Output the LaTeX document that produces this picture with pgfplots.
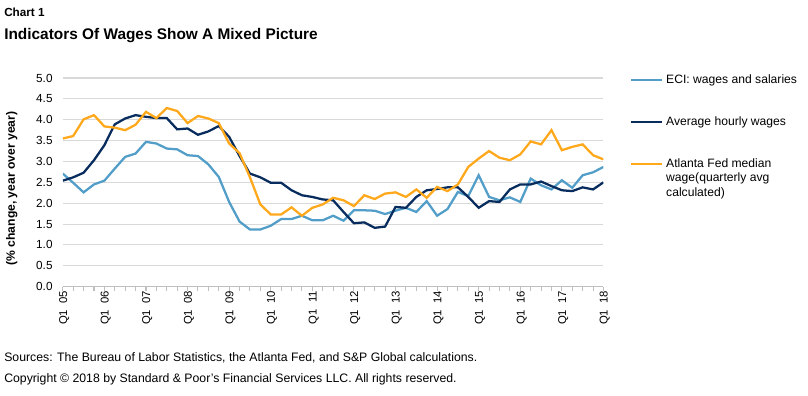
\documentclass[border=0pt]{standalone}
\usepackage{pgfplots}
\usepackage{pgfplotstable}
\pgfplotsset{compat=1.18}
\usepackage{fontspec}
\setmainfont{Liberation Sans}
\definecolor{eci}{RGB}{82,158,200}
\definecolor{ahw}{RGB}{8,44,94}
\definecolor{atl}{RGB}{255,168,28}
\definecolor{gridc}{RGB}{217,217,217}
\definecolor{axc}{RGB}{191,191,191}
\pgfplotsset{atlimg/.style={legend image code/.code={\path (0pt,-11pt) (0pt,11pt); \draw[##1] (0pt,11pt) -- (23.7pt,11pt);}}}
\pgfplotstableread{
i eci ahw atl
0 2.71 2.54 3.55
1 2.49 2.62 3.61
2 2.26 2.73 4.01
3 2.45 3.03 4.11
4 2.54 3.39 3.84
5 2.83 3.89 3.81
6 3.11 4.03 3.75
7 3.19 4.11 3.88
8 3.47 4.07 4.19
9 3.43 4.04 4.04
10 3.31 4.04 4.28
11 3.29 3.77 4.21
12 3.15 3.79 3.92
13 3.13 3.64 4.09
14 2.93 3.72 4.03
15 2.63 3.85 3.92
16 2.03 3.59 3.43
17 1.56 3.13 3.20
18 1.37 2.71 2.62
19 1.37 2.62 1.97
20 1.46 2.49 1.73
21 1.62 2.49 1.73
22 1.62 2.31 1.90
23 1.70 2.19 1.70
24 1.59 2.15 1.89
25 1.59 2.09 1.97
26 1.70 2.07 2.13
27 1.58 1.79 2.07
28 1.83 1.52 1.93
29 1.83 1.54 2.19
30 1.82 1.41 2.10
31 1.74 1.44 2.23
32 1.82 1.91 2.26
33 1.89 1.89 2.15
34 1.79 2.15 2.33
35 2.05 2.31 2.13
36 1.70 2.34 2.39
37 1.86 2.38 2.29
38 2.27 2.38 2.45
39 2.17 2.15 2.87
40 2.67 1.89 3.07
41 2.15 2.05 3.25
42 2.07 2.03 3.09
43 2.14 2.33 3.03
44 2.03 2.45 3.17
45 2.59 2.45 3.48
46 2.43 2.52 3.41
47 2.33 2.41 3.75
48 2.55 2.31 3.27
49 2.37 2.29 3.35
50 2.67 2.38 3.41
51 2.74 2.33 3.15
52 2.87 2.50 3.05
}\wages
\begin{document}
\begin{tikzpicture}
\path[use as bounding box] (0pt,0pt) rectangle (606pt,-297pt);
\node[anchor=base west, font=\bfseries\fontsize{8.8}{10}\selectfont, inner sep=0pt] at (3pt,-12.5pt) {Chart 1};
\node[anchor=base west, font=\bfseries\fontsize{11.55}{13}\selectfont, inner sep=0pt] at (3pt,-29.5pt) {Indicators Of Wages Show A Mixed Picture};
\node[anchor=base west, font=\fontsize{9.2}{10}\selectfont, inner sep=0pt] at (3pt,-271pt) {Sources: The Bureau of Labor Statistics, the Atlanta Fed, and S\&P Global calculations.};
\node[anchor=base west, font=\fontsize{9.2}{10}\selectfont, inner sep=0pt] at (3pt,-287pt) {Copyright \textcopyright{} 2018 by Standard \& Poor's Financial Services LLC. All rights reserved.};
\begin{axis}[
  at={(47.1pt,-215.0pt)}, anchor=south west,
  width=405.5pt, height=156.5pt, scale only axis,
  xmin=0, xmax=52, ymin=0, ymax=5,
  axis x line*=bottom, axis y line*=left, axis line style={-},
  x axis line style={axc, line width=0.8pt},
  y axis line style={draw=none},
  xtick={0,4,...,52},
  xticklabels={Q1\ \ 05,Q1\ \ 06,Q1\ \ 07,Q1\ \ 08,Q1\ \ 09,Q1\ \ 10,Q1\ \ 11,Q1\ \ 12,Q1\ \ 13,Q1\ \ 14,Q1\ \ 15,Q1\ \ 16,Q1\ \ 17,Q1\ \ 18},
  minor xtick={0,1,...,52},
  tick align=outside,
  major tick length=3pt, minor tick length=3pt,
  xtick style={axc, line width=0.8pt},
  every minor tick/.style={axc, line width=0.8pt},
  ytick={0,0.5,...,5},
  ytick style={draw=none},
  ymajorgrids, grid style={gridc, line width=0.8pt},
  yticklabel style={font=\fontsize{8.8}{10}\selectfont, inner sep=0pt, xshift=-4.5pt},
  xticklabel style={font=\fontsize{8.5}{10}\selectfont, rotate=90, anchor=east, inner sep=0pt, yshift=-1pt},
  /pgf/number format/.cd, fixed, fixed zerofill, precision=1, assume math mode=true, /pgfplots/.cd,
  ylabel={(\% change, year over year)},
  ylabel style={font=\bfseries\fontsize{9.1}{10}\selectfont, at={(axis description cs:-0.0944,0.47)}, anchor=center},
  legend style={at={(axis description cs:1.048,1.03)}, anchor=north west, draw=none, fill=none, inner sep=0pt,
    font=\fontsize{9.1}{11.1}\selectfont, row sep=19.3pt, cells={anchor=west, align=left}},
  legend cell align=left,
  legend image code/.code={\draw[#1] (0pt,0pt) -- (23.7pt,0pt);},
]
\addplot[eci, line width=1.7pt] table[x=i, y=eci] {\wages};
\addlegendentry{ECI: wages and salaries}
\addplot[ahw, line width=1.7pt] table[x=i, y=ahw] {\wages};
\addlegendentry{Average hourly wages}
\addplot[atl, line width=1.7pt, atlimg] table[x=i, y=atl] {\wages};
\addlegendentry{Atlanta Fed median\\wage(quarterly avg\\calculated)}
\end{axis}
\end{tikzpicture}
\end{document}
